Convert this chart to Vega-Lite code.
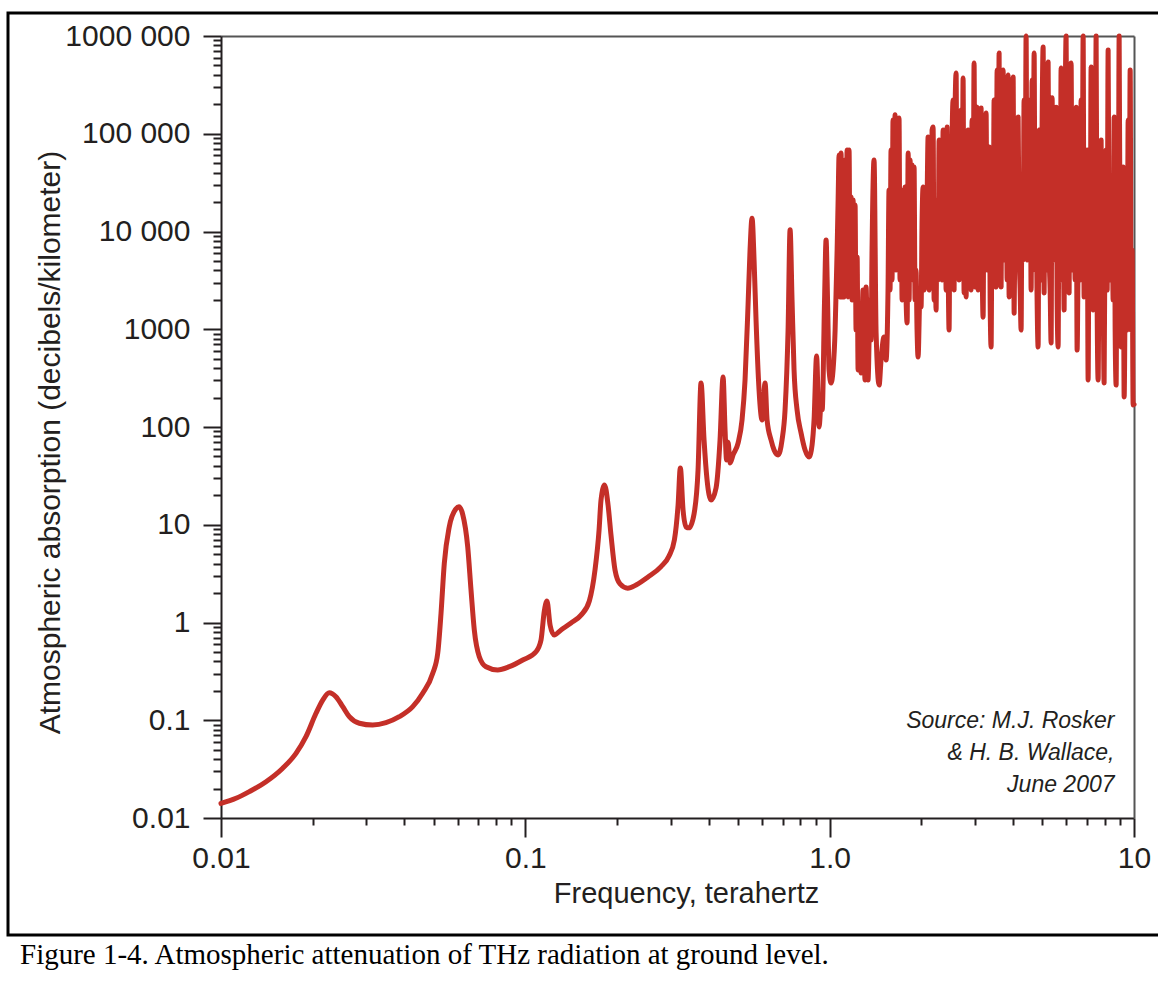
{
  "$schema": "https://vega.github.io/schema/vega-lite/v6.json",
  "width": 1153,
  "height": 922,
  "autosize": {"type": "none"},
  "padding": {"left": 8, "top": 13, "right": -3, "bottom": 46},
  "background": "white",
  "config": {
    "view": {"stroke": "#000000", "strokeWidth": 3},
    "font": "Liberation Sans",
    "axis": {
      "labelFont": "Liberation Sans",
      "titleFont": "Liberation Sans",
      "labelColor": "#231f20",
      "titleColor": "#231f20",
      "domainColor": "#231f20",
      "tickColor": "#231f20",
      "domainWidth": 2,
      "tickWidth": 2,
      "grid": false,
      "titleFontWeight": "normal",
      "labelFlush": false,
      "labelBound": false,
      "labelOverlap": false
    }
  },
  "title": {
    "text": "Figure 1-4. Atmospheric attenuation of THz radiation at ground level.",
    "orient": "bottom",
    "anchor": "start",
    "frame": "group",
    "font": "Liberation Serif",
    "fontSize": 29,
    "fontWeight": "normal",
    "color": "#000000",
    "dx": 12,
    "offset": 6
  },
  "datasets": {
    "absorption": [
      {"freq": 0.01, "absorption": 0.0141},
      {"freq": 0.0112, "absorption": 0.0159},
      {"freq": 0.01239, "absorption": 0.0186},
      {"freq": 0.01406, "absorption": 0.0235},
      {"freq": 0.01595, "absorption": 0.0323},
      {"freq": 0.01764, "absorption": 0.0459},
      {"freq": 0.01902, "absorption": 0.0679},
      {"freq": 0.02052, "absorption": 0.1178},
      {"freq": 0.02159, "absorption": 0.161},
      {"freq": 0.02269, "absorption": 0.191},
      {"freq": 0.02386, "absorption": 0.174},
      {"freq": 0.02512, "absorption": 0.1377},
      {"freq": 0.0264, "absorption": 0.1087},
      {"freq": 0.02848, "absorption": 0.0931},
      {"freq": 0.03151, "absorption": 0.0893},
      {"freq": 0.03484, "absorption": 0.0944},
      {"freq": 0.03853, "absorption": 0.1087},
      {"freq": 0.04266, "absorption": 0.1377},
      {"freq": 0.046, "absorption": 0.1888},
      {"freq": 0.04963, "absorption": 0.302},
      {"freq": 0.05154, "absorption": 0.484},
      {"freq": 0.05284, "absorption": 1.24},
      {"freq": 0.05417, "absorption": 4.04},
      {"freq": 0.05625, "absorption": 9.55},
      {"freq": 0.05919, "absorption": 14.6},
      {"freq": 0.0605, "absorption": 15.3},
      {"freq": 0.06226, "absorption": 12.8},
      {"freq": 0.06466, "absorption": 5.96},
      {"freq": 0.0663, "absorption": 2.15},
      {"freq": 0.06797, "absorption": 0.838},
      {"freq": 0.07059, "absorption": 0.447},
      {"freq": 0.07428, "absorption": 0.353},
      {"freq": 0.08114, "absorption": 0.327},
      {"freq": 0.08858, "absorption": 0.353},
      {"freq": 0.09806, "absorption": 0.413},
      {"freq": 0.1084, "absorption": 0.502},
      {"freq": 0.1126, "absorption": 0.662},
      {"freq": 0.1154, "absorption": 1.3},
      {"freq": 0.1178, "absorption": 1.66},
      {"freq": 0.1206, "absorption": 0.94},
      {"freq": 0.1243, "absorption": 0.745},
      {"freq": 0.131, "absorption": 0.838},
      {"freq": 0.1413, "absorption": 0.99},
      {"freq": 0.1524, "absorption": 1.19},
      {"freq": 0.1623, "absorption": 1.66},
      {"freq": 0.1694, "absorption": 3.44},
      {"freq": 0.1747, "absorption": 8.83},
      {"freq": 0.1773, "absorption": 17.9},
      {"freq": 0.1821, "absorption": 25.5},
      {"freq": 0.187, "absorption": 15.9},
      {"freq": 0.1912, "absorption": 7.85},
      {"freq": 0.1971, "absorption": 3.44},
      {"freq": 0.2047, "absorption": 2.48},
      {"freq": 0.217, "absorption": 2.24},
      {"freq": 0.2311, "absorption": 2.42},
      {"freq": 0.253, "absorption": 2.92},
      {"freq": 0.2792, "absorption": 3.73},
      {"freq": 0.2966, "absorption": 4.78},
      {"freq": 0.3089, "absorption": 6.99},
      {"freq": 0.3176, "absorption": 15.9},
      {"freq": 0.3231, "absorption": 38.1},
      {"freq": 0.3298, "absorption": 14.2},
      {"freq": 0.3374, "absorption": 9.49},
      {"freq": 0.3451, "absorption": 9.3},
      {"freq": 0.3584, "absorption": 12.9},
      {"freq": 0.3694, "absorption": 36.3},
      {"freq": 0.3779, "absorption": 282},
      {"freq": 0.3866, "absorption": 73.6},
      {"freq": 0.3955, "absorption": 28.7},
      {"freq": 0.4076, "absorption": 17.9},
      {"freq": 0.4233, "absorption": 23.8},
      {"freq": 0.4363, "absorption": 73.6},
      {"freq": 0.4464, "absorption": 325},
      {"freq": 0.4532, "absorption": 93},
      {"freq": 0.4584, "absorption": 46},
      {"freq": 0.4636, "absorption": 70},
      {"freq": 0.4707, "absorption": 42.9},
      {"freq": 0.4815, "absorption": 51.8},
      {"freq": 0.5, "absorption": 68.5},
      {"freq": 0.5153, "absorption": 118},
      {"freq": 0.5272, "absorption": 303},
      {"freq": 0.5393, "absorption": 1770},
      {"freq": 0.5475, "absorption": 6470},
      {"freq": 0.5559, "absorption": 13700},
      {"freq": 0.5644, "absorption": 5110},
      {"freq": 0.5729, "absorption": 1240},
      {"freq": 0.5861, "absorption": 239},
      {"freq": 0.5997, "absorption": 118},
      {"freq": 0.6134, "absorption": 282},
      {"freq": 0.6228, "absorption": 118},
      {"freq": 0.6419, "absorption": 73.6},
      {"freq": 0.6567, "absorption": 58.2},
      {"freq": 0.6768, "absorption": 51.8},
      {"freq": 0.6975, "absorption": 73.6},
      {"freq": 0.7135, "absorption": 149},
      {"freq": 0.73, "absorption": 982},
      {"freq": 0.7412, "absorption": 10400},
      {"freq": 0.7523, "absorption": 1990},
      {"freq": 0.7638, "absorption": 383},
      {"freq": 0.7815, "absorption": 149},
      {"freq": 0.8054, "absorption": 86.9},
      {"freq": 0.8302, "absorption": 58.2},
      {"freq": 0.8557, "absorption": 49.3},
      {"freq": 0.8754, "absorption": 65.5},
      {"freq": 0.8886, "absorption": 118},
      {"freq": 0.9058, "absorption": 532},
      {"freq": 0.9231, "absorption": 100},
      {"freq": 0.9369, "absorption": 168},
      {"freq": 0.945, "absorption": 150},
      {"freq": 0.962, "absorption": 1990},
      {"freq": 0.9732, "absorption": 8190},
      {"freq": 0.9842, "absorption": 1990},
      {"freq": 0.9954, "absorption": 383},
      {"freq": 1.011, "absorption": 282},
      {"freq": 1.026, "absorption": 383},
      {"freq": 1.042, "absorption": 982},
      {"freq": 1.05, "absorption": 2520},
      {"freq": 1.058, "absorption": 6470},
      {"freq": 1.066, "absorption": 21000},
      {"freq": 1.074, "absorption": 60600},
      {"freq": 1.082, "absorption": 2140},
      {"freq": 1.09, "absorption": 63500},
      {"freq": 1.098, "absorption": 2140},
      {"freq": 1.107, "absorption": 33600},
      {"freq": 1.115, "absorption": 2140},
      {"freq": 1.124, "absorption": 53900},
      {"freq": 1.132, "absorption": 2520},
      {"freq": 1.141, "absorption": 68200},
      {"freq": 1.149, "absorption": 2140},
      {"freq": 1.158, "absorption": 68200},
      {"freq": 1.167, "absorption": 3190},
      {"freq": 1.176, "absorption": 22600},
      {"freq": 1.185, "absorption": 1990},
      {"freq": 1.194, "absorption": 21000},
      {"freq": 1.203, "absorption": 2520},
      {"freq": 1.212, "absorption": 18700},
      {"freq": 1.221, "absorption": 982},
      {"freq": 1.231, "absorption": 5490},
      {"freq": 1.24, "absorption": 383},
      {"freq": 1.25, "absorption": 1160},
      {"freq": 1.268, "absorption": 357},
      {"freq": 1.287, "absorption": 2520},
      {"freq": 1.307, "absorption": 303},
      {"freq": 1.317, "absorption": 2700},
      {"freq": 1.337, "absorption": 303},
      {"freq": 1.358, "absorption": 1990},
      {"freq": 1.368, "absorption": 776},
      {"freq": 1.378, "absorption": 6470},
      {"freq": 1.399, "absorption": 53900},
      {"freq": 1.421, "absorption": 915},
      {"freq": 1.454, "absorption": 269},
      {"freq": 1.475, "absorption": 484},
      {"freq": 1.509, "absorption": 833},
      {"freq": 1.532, "absorption": 484},
      {"freq": 1.555, "absorption": 2520},
      {"freq": 1.567, "absorption": 26600},
      {"freq": 1.579, "absorption": 2520},
      {"freq": 1.591, "absorption": 68200},
      {"freq": 1.603, "absorption": 3190},
      {"freq": 1.615, "absorption": 138000},
      {"freq": 1.628, "absorption": 5110},
      {"freq": 1.64, "absorption": 156000},
      {"freq": 1.652, "absorption": 4040},
      {"freq": 1.665, "absorption": 109000},
      {"freq": 1.678, "absorption": 6470},
      {"freq": 1.69, "absorption": 145000},
      {"freq": 1.703, "absorption": 3190},
      {"freq": 1.717, "absorption": 26600},
      {"freq": 1.73, "absorption": 1990},
      {"freq": 1.743, "absorption": 21000},
      {"freq": 1.756, "absorption": 5110},
      {"freq": 1.77, "absorption": 28500},
      {"freq": 1.783, "absorption": 1990},
      {"freq": 1.797, "absorption": 1160},
      {"freq": 1.811, "absorption": 63500},
      {"freq": 1.824, "absorption": 1990},
      {"freq": 1.838, "absorption": 53900},
      {"freq": 1.851, "absorption": 3190},
      {"freq": 1.865, "absorption": 47900},
      {"freq": 1.879, "absorption": 5110},
      {"freq": 1.894, "absorption": 45700},
      {"freq": 1.908, "absorption": 1990},
      {"freq": 1.922, "absorption": 4040},
      {"freq": 1.937, "absorption": 982},
      {"freq": 1.952, "absorption": 520},
      {"freq": 1.982, "absorption": 2520},
      {"freq": 1.997, "absorption": 1690},
      {"freq": 2.012, "absorption": 13100},
      {"freq": 2.028, "absorption": 28500},
      {"freq": 2.043, "absorption": 2520},
      {"freq": 2.058, "absorption": 21000},
      {"freq": 2.074, "absorption": 3760},
      {"freq": 2.09, "absorption": 21000},
      {"freq": 2.106, "absorption": 92400},
      {"freq": 2.122, "absorption": 2520},
      {"freq": 2.138, "absorption": 86300},
      {"freq": 2.154, "absorption": 3190},
      {"freq": 2.17, "absorption": 109000},
      {"freq": 2.187, "absorption": 117000},
      {"freq": 2.204, "absorption": 1990},
      {"freq": 2.22, "absorption": 6470},
      {"freq": 2.237, "absorption": 1570},
      {"freq": 2.254, "absorption": 21000},
      {"freq": 2.271, "absorption": 3190},
      {"freq": 2.289, "absorption": 86300},
      {"freq": 2.306, "absorption": 4040},
      {"freq": 2.323, "absorption": 53900},
      {"freq": 2.341, "absorption": 3190},
      {"freq": 2.359, "absorption": 109000},
      {"freq": 2.376, "absorption": 4040},
      {"freq": 2.395, "absorption": 86300},
      {"freq": 2.413, "absorption": 2520},
      {"freq": 2.431, "absorption": 117000},
      {"freq": 2.45, "absorption": 5110},
      {"freq": 2.468, "absorption": 982},
      {"freq": 2.487, "absorption": 21000},
      {"freq": 2.506, "absorption": 3190},
      {"freq": 2.525, "absorption": 86300},
      {"freq": 2.544, "absorption": 221000},
      {"freq": 2.564, "absorption": 2520},
      {"freq": 2.583, "absorption": 175000},
      {"freq": 2.603, "absorption": 418000},
      {"freq": 2.622, "absorption": 5110},
      {"freq": 2.643, "absorption": 21000},
      {"freq": 2.663, "absorption": 3190},
      {"freq": 2.683, "absorption": 109000},
      {"freq": 2.703, "absorption": 175000},
      {"freq": 2.724, "absorption": 4040},
      {"freq": 2.744, "absorption": 372000},
      {"freq": 2.765, "absorption": 2350},
      {"freq": 2.786, "absorption": 68200},
      {"freq": 2.807, "absorption": 2140},
      {"freq": 2.829, "absorption": 21000},
      {"freq": 2.85, "absorption": 109000},
      {"freq": 2.872, "absorption": 3190},
      {"freq": 2.894, "absorption": 68200},
      {"freq": 2.915, "absorption": 2520},
      {"freq": 2.937, "absorption": 138000},
      {"freq": 2.96, "absorption": 5110},
      {"freq": 2.982, "absorption": 529000},
      {"freq": 3.005, "absorption": 2700},
      {"freq": 3.028, "absorption": 68200},
      {"freq": 3.051, "absorption": 187000},
      {"freq": 3.074, "absorption": 2520},
      {"freq": 3.097, "absorption": 109000},
      {"freq": 3.121, "absorption": 3190},
      {"freq": 3.145, "absorption": 183000},
      {"freq": 3.169, "absorption": 5110},
      {"freq": 3.193, "absorption": 1330},
      {"freq": 3.217, "absorption": 68200},
      {"freq": 3.242, "absorption": 6470},
      {"freq": 3.266, "absorption": 163000},
      {"freq": 3.291, "absorption": 4040},
      {"freq": 3.316, "absorption": 21000},
      {"freq": 3.342, "absorption": 73200},
      {"freq": 3.367, "absorption": 1990},
      {"freq": 3.392, "absorption": 658},
      {"freq": 3.418, "absorption": 21000},
      {"freq": 3.444, "absorption": 5110},
      {"freq": 3.47, "absorption": 221000},
      {"freq": 3.497, "absorption": 3190},
      {"freq": 3.523, "absorption": 2700},
      {"freq": 3.55, "absorption": 449000},
      {"freq": 3.577, "absorption": 6470},
      {"freq": 3.604, "absorption": 670000},
      {"freq": 3.631, "absorption": 4040},
      {"freq": 3.659, "absorption": 2700},
      {"freq": 3.687, "absorption": 138000},
      {"freq": 3.715, "absorption": 449000},
      {"freq": 3.743, "absorption": 5110},
      {"freq": 3.772, "absorption": 6470},
      {"freq": 3.8, "absorption": 281000},
      {"freq": 3.829, "absorption": 3190},
      {"freq": 3.858, "absorption": 399000},
      {"freq": 3.888, "absorption": 2140},
      {"freq": 3.917, "absorption": 68200},
      {"freq": 3.947, "absorption": 221000},
      {"freq": 3.977, "absorption": 3190},
      {"freq": 4.007, "absorption": 381000},
      {"freq": 4.038, "absorption": 1460},
      {"freq": 4.069, "absorption": 21000},
      {"freq": 4.099, "absorption": 138000},
      {"freq": 4.131, "absorption": 5110},
      {"freq": 4.162, "absorption": 148000},
      {"freq": 4.194, "absorption": 6470},
      {"freq": 4.226, "absorption": 2520},
      {"freq": 4.256, "absorption": 982},
      {"freq": 4.288, "absorption": 33600},
      {"freq": 4.321, "absorption": 5110},
      {"freq": 4.354, "absorption": 221000},
      {"freq": 4.387, "absorption": 6470},
      {"freq": 4.42, "absorption": 1000000},
      {"freq": 4.454, "absorption": 5110},
      {"freq": 4.488, "absorption": 6470},
      {"freq": 4.522, "absorption": 138000},
      {"freq": 4.556, "absorption": 221000},
      {"freq": 4.591, "absorption": 2520},
      {"freq": 4.626, "absorption": 355000},
      {"freq": 4.661, "absorption": 4040},
      {"freq": 4.697, "absorption": 670000},
      {"freq": 4.732, "absorption": 5110},
      {"freq": 4.768, "absorption": 21000},
      {"freq": 4.804, "absorption": 1990},
      {"freq": 4.841, "absorption": 658},
      {"freq": 4.878, "absorption": 109000},
      {"freq": 4.915, "absorption": 5110},
      {"freq": 4.952, "absorption": 3190},
      {"freq": 4.99, "absorption": 138000},
      {"freq": 5.028, "absorption": 772000},
      {"freq": 5.066, "absorption": 2350},
      {"freq": 5.104, "absorption": 68200},
      {"freq": 5.143, "absorption": 221000},
      {"freq": 5.182, "absorption": 4040},
      {"freq": 5.222, "absorption": 542000},
      {"freq": 5.262, "absorption": 6470},
      {"freq": 5.302, "absorption": 2520},
      {"freq": 5.341, "absorption": 723},
      {"freq": 5.382, "absorption": 233000},
      {"freq": 5.423, "absorption": 5110},
      {"freq": 5.464, "absorption": 6470},
      {"freq": 5.505, "absorption": 68200},
      {"freq": 5.547, "absorption": 187000},
      {"freq": 5.589, "absorption": 1990},
      {"freq": 5.632, "absorption": 658},
      {"freq": 5.675, "absorption": 68200},
      {"freq": 5.718, "absorption": 3190},
      {"freq": 5.761, "absorption": 470000},
      {"freq": 5.805, "absorption": 5110},
      {"freq": 5.849, "absorption": 21000},
      {"freq": 5.894, "absorption": 1570},
      {"freq": 5.938, "absorption": 138000},
      {"freq": 5.983, "absorption": 1000000},
      {"freq": 6.029, "absorption": 21000},
      {"freq": 6.075, "absorption": 4040},
      {"freq": 6.121, "absorption": 2350},
      {"freq": 6.168, "absorption": 138000},
      {"freq": 6.214, "absorption": 529000},
      {"freq": 6.261, "absorption": 4040},
      {"freq": 6.309, "absorption": 6470},
      {"freq": 6.357, "absorption": 68200},
      {"freq": 6.405, "absorption": 3190},
      {"freq": 6.454, "absorption": 187000},
      {"freq": 6.503, "absorption": 613},
      {"freq": 6.553, "absorption": 5110},
      {"freq": 6.602, "absorption": 21000},
      {"freq": 6.653, "absorption": 3190},
      {"freq": 6.702, "absorption": 221000},
      {"freq": 6.753, "absorption": 5110},
      {"freq": 6.805, "absorption": 1000000},
      {"freq": 6.856, "absorption": 2140},
      {"freq": 6.908, "absorption": 68200},
      {"freq": 6.961, "absorption": 5490},
      {"freq": 7.014, "absorption": 68200},
      {"freq": 7.067, "absorption": 303},
      {"freq": 7.121, "absorption": 21000},
      {"freq": 7.175, "absorption": 2520},
      {"freq": 7.229, "absorption": 482000},
      {"freq": 7.284, "absorption": 4040},
      {"freq": 7.34, "absorption": 1570},
      {"freq": 7.395, "absorption": 221000},
      {"freq": 7.452, "absorption": 3190},
      {"freq": 7.508, "absorption": 1000000},
      {"freq": 7.565, "absorption": 1990},
      {"freq": 7.623, "absorption": 303},
      {"freq": 7.681, "absorption": 6470},
      {"freq": 7.739, "absorption": 1990},
      {"freq": 7.798, "absorption": 86300},
      {"freq": 7.857, "absorption": 3190},
      {"freq": 7.917, "absorption": 1990},
      {"freq": 7.977, "absorption": 282},
      {"freq": 8.038, "absorption": 21000},
      {"freq": 8.099, "absorption": 68200},
      {"freq": 8.161, "absorption": 2520},
      {"freq": 8.223, "absorption": 719000},
      {"freq": 8.285, "absorption": 5110},
      {"freq": 8.349, "absorption": 3190},
      {"freq": 8.411, "absorption": 33600},
      {"freq": 8.475, "absorption": 21000},
      {"freq": 8.54, "absorption": 1990},
      {"freq": 8.604, "absorption": 148000},
      {"freq": 8.67, "absorption": 982},
      {"freq": 8.736, "absorption": 269},
      {"freq": 8.802, "absorption": 68200},
      {"freq": 8.869, "absorption": 1990},
      {"freq": 8.937, "absorption": 1000000},
      {"freq": 9.005, "absorption": 3190},
      {"freq": 9.073, "absorption": 658},
      {"freq": 9.142, "absorption": 6470},
      {"freq": 9.212, "absorption": 45700},
      {"freq": 9.282, "absorption": 203},
      {"freq": 9.352, "absorption": 1990},
      {"freq": 9.423, "absorption": 6470},
      {"freq": 9.495, "absorption": 982},
      {"freq": 9.568, "absorption": 138000},
      {"freq": 9.64, "absorption": 1990},
      {"freq": 9.714, "absorption": 449000},
      {"freq": 9.784, "absorption": 982},
      {"freq": 9.858, "absorption": 6470},
      {"freq": 9.934, "absorption": 168},
      {"freq": 10, "absorption": 170}
    ],
    "note": [
      {"freq": 8.63, "absorption": 0.0833, "note": "Source: M.J. Rosker\n& H. B. Wallace,\nJune 2007"}
    ]
  },
  "layer": [
    {
      "data": {"name": "absorption"},
      "mark": {"type": "line", "color": "#c42f28", "strokeWidth": 5, "strokeJoin": "round", "strokeCap": "round", "interpolate": "monotone"},
      "encoding": {
        "x": {
          "field": "freq",
          "type": "quantitative",
          "scale": {"type": "log", "domain": [0.01, 10], "range": [213, 1126], "nice": false},
          "axis": {
            "orient": "bottom",
            "offset": -117,
            "values": [0.01, 0.02, 0.03, 0.04, 0.05, 0.06, 0.07, 0.08, 0.09, 0.1, 0.2, 0.3, 0.4, 0.5, 0.6, 0.7, 0.8, 0.9, 1, 2, 3, 4, 5, 6, 7, 8, 9, 10],
            "labelExpr": "datum.value == 0.01 ? '0.01' : datum.value == 0.1 ? '0.1' : datum.value == 1 ? '1.0' : datum.value == 10 ? '10' : ''",
            "tickSize": {"condition": {"test": "datum.value == 0.01 || datum.value == 0.1 || datum.value == 1 || datum.value == 10", "value": 19}, "value": 7},
            "labelFontSize": 30,
            "labelPadding": 6,
            "title": "Frequency, terahertz",
            "titleFontSize": 29,
            "titleX": 678,
            "titleY": 75,
            "titleAlign": "center",
            "titleBaseline": "middle"
          }
        },
        "y": {
          "field": "absorption",
          "type": "quantitative",
          "scale": {"type": "log", "domain": [0.01, 1000000], "range": [805, 23], "nice": false},
          "axis": {
            "orient": "left",
            "offset": -213,
            "values": [0.01, 0.02, 0.03, 0.04, 0.05, 0.06, 0.07, 0.08, 0.09, 0.1, 0.2, 0.3, 0.4, 0.5, 0.6, 0.7, 0.8, 0.9, 1, 2, 3, 4, 5, 6, 7, 8, 9, 10, 20, 30, 40, 50, 60, 70, 80, 90, 100, 200, 300, 400, 500, 600, 700, 800, 900, 1000, 2000, 3000, 4000, 5000, 6000, 7000, 8000, 9000, 10000, 20000, 30000, 40000, 50000, 60000, 70000, 80000, 90000, 100000, 200000, 300000, 400000, 500000, 600000, 700000, 800000, 900000, 1000000],
            "labelExpr": "datum.value == 1000000 ? '1000 000' : datum.value == 100000 ? '100 000' : datum.value == 10000 ? '10 000' : datum.value == 1000 ? '1000' : datum.value == 100 ? '100' : datum.value == 10 ? '10' : datum.value == 1 ? '1' : datum.value == 0.1 ? '0.1' : datum.value == 0.01 ? '0.01' : ''",
            "tickSize": {"condition": {"test": "indexof([0.01, 0.1, 1, 10, 100, 1000, 10000, 100000, 1000000], datum.value) >= 0", "value": 18}, "value": 8},
            "labelFontSize": 30,
            "labelPadding": 13,
            "labelBaseline": "middle",
            "title": "Atmospheric absorption (decibels/kilometer)",
            "titleFontSize": 30,
            "titleAngle": -90,
            "titleX": -171,
            "titleY": 429,
            "titleAlign": "center",
            "titleBaseline": "middle"
          }
        }
      }
    },
    {
      "data": {"name": "note"},
      "mark": {"type": "text", "align": "right", "baseline": "alphabetic", "font": "Liberation Sans", "fontStyle": "italic", "fontSize": 23, "lineHeight": 32, "lineBreak": "\n", "color": "#231f20"},
      "encoding": {
        "x": {
          "field": "freq",
          "type": "quantitative",
          "scale": {"type": "log", "domain": [0.01, 10], "range": [213, 1126], "nice": false},
          "axis": {"orient": "top", "offset": -23, "ticks": false, "labels": false, "title": null, "domainColor": "#555555", "domainWidth": 2}
        },
        "y": {
          "field": "absorption",
          "type": "quantitative",
          "scale": {"type": "log", "domain": [0.01, 1000000], "range": [805, 23], "nice": false},
          "axis": {"orient": "right", "offset": -27, "ticks": false, "labels": false, "title": null, "domainColor": "#555555", "domainWidth": 2}
        },
        "text": {"field": "note"}
      }
    }
  ],
  "resolve": {"axis": {"x": "independent", "y": "independent"}}
}
